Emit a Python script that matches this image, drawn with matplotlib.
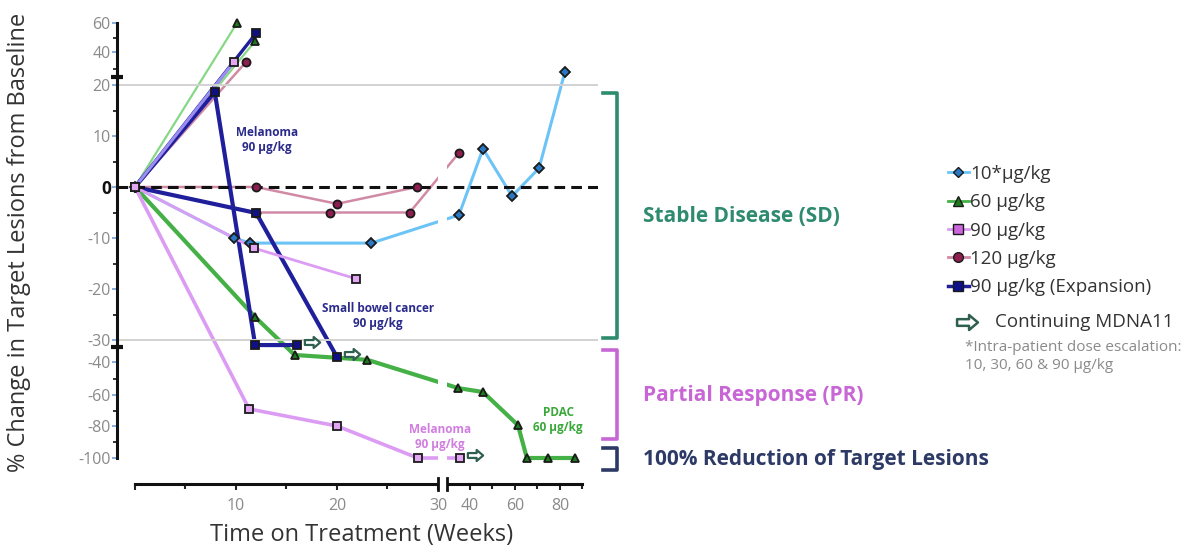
import numpy as np
import matplotlib
matplotlib.use("Agg")
import matplotlib.pyplot as plt
import matplotlib.transforms as mtransforms
from matplotlib.lines import Line2D
from matplotlib.path import Path

plt.rcParams['font.family'] = ['Open Sans', 'DejaVu Sans']

# ---------------- data: weeks on treatment / % change in target lesions ----------------
# 10*ug/kg (intra-patient escalation)
d10_w = [0, 9.8, 11.4, 23.4, 35.1, 45.8, 58.7, 70.7, 82.2]
d10_v = [0, -10, -11, -11, -5.5, 7.5, -1.8, 3.7, 28]

# 60 ug/kg
d60a_w = [0, 10.1]
d60a_v = [0, 60]
d60b_w = [0, 11.9]
d60b_v = [0, 47.5]
d60c_w = [0, 11.9, 15.8, 23.0, 34.7, 45.8, 61.3, 65.3, 74.7, 86.7]   # PDAC
d60c_v = [0, -25.5, -36.8, -39, -55.8, -58.2, -79.4, -100, -100, -100]

# 90 ug/kg
d90a_w = [0, 11.8, 21.9]
d90a_v = [0, -12, -18]
d90b_w = [0, 11.3, 20, 28, 35.6]                                     # Melanoma (PR)
d90b_v = [0, -69, -80, -100, -100]
d90c_w = [0, 9.8]
d90c_v = [0, 34]

# 120 ug/kg
d120a_w = [0, 11]
d120a_v = [0, 34]
d120b_w = [0, 12, 20, 27.9]
d120b_v = [0, 0, -3.3, 0]
d120c_w = [0, 12, 19.3, 27.2, 35.1]
d120c_v = [0, -5, -5, -5, 6.7]

# 90 ug/kg expansion cohort
dexa_w = [0, 7.9, 11.9, 16]                                          # Melanoma
dexa_v = [0, 18.6, -32.3, -32.3]
dexb_w = [0, 12]
dexb_v = [0, 53]
dexc_w = [0, 12, 20]                                                 # Small bowel cancer
dexc_v = [0, -5.1, -37.7]

y_ticks = [-100, -80, -60, -40, -30, -20, -10, 0, 10, 20, 40, 60]
y_ticklabels = ['-100', '-80', '-60', '-40', '-30', '-20', '-10', '0', '10', '20', '40', '60']
y_minor = [-90, -70, -50, -25, -15, -5, 5, 15, 30, 50]
x_ticks = [0, 10, 20, 30, 40, 60, 80]
x_ticklabels = ['', '10', '20', '30', '40', '60', '80']
x_minor = [5, 15, 25, 50, 70, 90]

# ---------------- piecewise (broken) axis scales ----------------
X_KNOTS_W = [-10, 30, 30.001, 200]
X_KNOTS_U = [-10, 30, 30.94, 30.94 + 170 * 0.2228]

def xfwd(w):
    return np.interp(w, X_KNOTS_W, X_KNOTS_U)

def xinv(u):
    return np.interp(u, X_KNOTS_U, X_KNOTS_W)

Y_KNOTS_V = [-130, -100, -80, -60, -40, -30, -20, -10, 0, 10, 20, 40, 60, 80]
Y_KNOTS_T = [-506, -458, -426, -395, -362, -340, -289, -238, -187, -136, -85, -52, -23, 6]

def yfwd(v):
    return np.interp(v, Y_KNOTS_V, Y_KNOTS_T)

def yinv(t):
    return np.interp(t, Y_KNOTS_T, Y_KNOTS_V)

W, H = 1194, 548
def fx(px):
    return px / W
def fy(py):
    return 1 - py / H

fig = plt.figure(figsize=(W / 100, H / 100), dpi=100)
ax = fig.add_axes([fx(117), fy(484), fx(598) - fx(117), fy(15.75) - fy(484)])
ax.set_xscale('function', functions=(xfwd, xinv))
ax.set_yscale('function', functions=(yfwd, yinv))
ax.set_xlim(-1.78, 96.9)
ax.set_ylim(-116.25, 65)

# colours
C10_LINE, C10_MK = '#6cc4f6', '#2a78c4'
C60_LIGHT, C60_LINE, C60_MK = '#86d886', '#45b045', '#1c7a1c'
C90_LINE, C90_MK = '#dc9cf3', '#e3a6f2'
C120_LINE, C120_MK = '#d08aa5', '#8e1e50'
CEX_LINE, CEX_MK = '#1f1f9c', '#0f0f88'
ARROW_EDGE = '#2f5f4f'

# arrow marker for "continuing"
arrow_path = Path([(-1, -0.32), (0.15, -0.32), (0.15, -0.72), (1, 0),
                   (0.15, 0.72), (0.15, 0.32), (-1, 0.32), (-1, -0.32)],
                  [Path.MOVETO] + [Path.LINETO] * 6 + [Path.CLOSEPOLY])

series = [
    (d10_w, d10_v, C10_LINE, 2.2, 'D', C10_MK, 4.6),
    (d60a_w, d60a_v, C60_LIGHT, 1.6, '^', C60_MK, 6),
    (d60b_w, d60b_v, C60_LIGHT, 1.6, '^', C60_MK, 6),
    (d60c_w, d60c_v, C60_LINE, 3.0, '^', C60_MK, 6),
    (d120a_w, d120a_v, C120_LINE, 1.8, 'o', C120_MK, 5.8),
    (d120b_w, d120b_v, C120_LINE, 1.8, 'o', C120_MK, 5.8),
    (d120c_w, d120c_v, C120_LINE, 1.8, 'o', C120_MK, 5.8),
    (dexa_w, dexa_v, CEX_LINE, 3.0, 's', CEX_MK, 5.6),
    (dexb_w, dexb_v, CEX_LINE, 2.4, 's', CEX_MK, 5.6),
    (dexc_w, dexc_v, CEX_LINE, 3.0, 's', CEX_MK, 5.6),
    (d90a_w, d90a_v, C90_LINE, 2.0, 's', C90_MK, 5.6),
    (d90b_w, d90b_v, C90_LINE, 2.6, 's', C90_MK, 5.6),
    (d90c_w, d90c_v, '#9c8ef0', 2.2, 's', C90_MK, 5.6),
]

for w, v, lc, lw, mk, mc, ms in series:
    ax.plot(w, v, color=lc, lw=lw, zorder=2, clip_on=False, solid_capstyle='round')
for w, v, lc, lw, mk, mc, ms in series:
    ax.plot(w, v, ls='none', marker=mk, ms=ms, mfc=mc, mec='#1a1a1a', mew=1.3,
            zorder=4, clip_on=False)

# gap in the data lines at the x-axis break
ax.axvspan(30, 30.001, color='white', lw=0, zorder=2.3)

# reference lines
ax.axhline(0, color='#111111', lw=2.2, ls=(0, (3.5, 2)), zorder=2.5)
ax.axhline(20, color='#d2d2d2', lw=1.4, zorder=2.5)
ax.axhline(-30, color='#d2d2d2', lw=1.4, zorder=2.5)

# continuing-treatment arrows after the last assessment
arrow_tr = mtransforms.offset_copy(ax.transData, fig=fig, x=15, y=3, units='dots')
for w, v in [(dexa_w, dexa_v), (dexc_w, dexc_v), (d90b_w, d90b_v)]:
    ax.plot([w[-1]], [v[-1]], ls='none', marker=arrow_path, ms=11, mfc='white',
            mec=ARROW_EDGE, mew=1.6, transform=arrow_tr, zorder=5, clip_on=False)

# axes styling
for s in ['top', 'right']:
    ax.spines[s].set_visible(False)
ax.spines['left'].set_bounds(-100, 60)
ax.spines['bottom'].set_bounds(0, 90)
for s in ['left', 'bottom']:
    ax.spines[s].set_linewidth(2.2)
    ax.spines[s].set_color('#111111')

ax.set_yticks(y_ticks)
ax.set_yticklabels(y_ticklabels)
ax.set_yticks(y_minor, minor=True)
ax.set_xticks(x_ticks)
ax.set_xticklabels(x_ticklabels)
ax.set_xticks(x_minor, minor=True)
ax.tick_params(axis='y', which='major', length=3.5, width=1.3, color='#7ea9d6',
               labelsize=11.5, labelcolor='#8a8a8a', pad=1)
ax.tick_params(axis='y', which='minor', length=3, width=1.3, color='#222222')
ax.tick_params(axis='x', which='major', length=4, width=1.5, color='#222222',
               labelsize=11.5, labelcolor='#8a8a8a', pad=6)
ax.tick_params(axis='x', which='minor', length=3.5, width=1.5, color='#222222')
for lab in ax.get_yticklabels():
    if lab.get_text() == '0':
        lab.set_color('#111111')
        lab.set_fontweight('bold')
        lab.set_fontsize(12.5)

# x-axis break: gap in the spine plus end marks
xtr = ax.get_xaxis_transform()
ax.plot([30, 30.001], [0, 0], color='white', lw=5, transform=xtr, zorder=6,
        clip_on=False, solid_capstyle='butt')
for xb in (30, 30.001):
    ax.plot([xb, xb], [-0.012, 0.012], color='#111111', lw=2, transform=xtr,
            zorder=7, clip_on=False)
# y-axis break marks
ytr = ax.get_yaxis_transform()
ax.plot([0, 0], [24.8, -33.2], ls='none', marker='_', ms=9, mew=3, color='#111111',
        transform=ytr, zorder=7, clip_on=False)

# axis titles
fig.text(fx(19), fy(242), '% Change in Target Lesions from Baseline', rotation=90,
         ha='center', va='center', fontsize=17, color='#333333')
fig.text(fx(362), fy(535), 'Time on Treatment (Weeks)', ha='center', va='center',
         fontsize=17, color='#333333')

# in-plot annotations
fig.text(fx(267), fy(140), 'Melanoma\n90 µg/kg', ha='center', va='center', fontsize=8.5,
         fontweight='bold', color='#2b2b8c', linespacing=1.15)
fig.text(fx(378), fy(316), 'Small bowel cancer\n90 µg/kg', ha='center', va='center',
         fontsize=8.5, fontweight='bold', color='#2b2b8c', linespacing=1.15)
fig.text(fx(440), fy(437), 'Melanoma\n90 µg/kg', ha='center', va='center', fontsize=8.5,
         fontweight='bold', color='#d17ee0', linespacing=1.15)
fig.text(fx(558), fy(420), 'PDAC\n60 µg/kg', ha='center', va='center', fontsize=8.5,
         fontweight='bold', color='#3aa83a', linespacing=1.15)

# response-category brackets
brackets = [
    (93, 338, '#2e8b6e', 'Stable Disease (SD)', 217),
    (350, 439, '#c866d6', 'Partial Response (PR)', 395),
    (448, 470, '#2d3a66', '100% Reduction of Target Lesions', 460),
]
for top, bot, col, txt, ty in brackets:
    fig.add_artist(Line2D([fx(603), fx(617), fx(617), fx(603)],
                          [fy(top), fy(top), fy(bot), fy(bot)],
                          color=col, lw=2.6, transform=fig.transFigure))
    fig.text(fx(643), fy(ty), txt, ha='left', va='center', fontsize=15,
             fontweight='bold', color=col)

# legend
handles = [
    Line2D([], [], color=C10_LINE, lw=2, marker='D', ms=5.5, mfc=C10_MK, mec='#1a1a1a'),
    Line2D([], [], color=C60_LINE, lw=2, marker='^', ms=7, mfc=C60_MK, mec='#1a1a1a'),
    Line2D([], [], color=C90_LINE, lw=2, marker='s', ms=7, mfc='#cc66dd', mec='#1a1a1a'),
    Line2D([], [], color=C120_LINE, lw=2, marker='o', ms=7, mfc=C120_MK, mec='#1a1a1a'),
    Line2D([], [], color=CEX_LINE, lw=2.5, marker='s', ms=7, mfc=CEX_MK, mec='#1a1a1a'),
]
labels = ['10*µg/kg', '60 µg/kg', '90 µg/kg', '120 µg/kg', '90 µg/kg (Expansion)']
fig.legend(handles, labels, loc='upper left', bbox_to_anchor=(fx(948), fy(165)),
           frameon=False, fontsize=13.5, handlelength=1.1, handletextpad=0.1,
           labelspacing=0.55, borderaxespad=0, borderpad=0, labelcolor='#333333')
fig.add_artist(Line2D([fx(967)], [fy(322)], ls='none', marker=arrow_path, ms=15,
                      mfc='white', mec=ARROW_EDGE, mew=1.8, transform=fig.transFigure))
fig.text(fx(995), fy(322), 'Continuing MDNA11', ha='left', va='center', fontsize=13.5,
         color='#333333')
fig.text(fx(965), fy(340), '*Intra-patient dose escalation:\n10, 30, 60 & 90 µg/kg',
         ha='left', va='top', fontsize=11, color='#8a8a8a', linespacing=1.25)

fig.savefig('out.png', dpi=100)
